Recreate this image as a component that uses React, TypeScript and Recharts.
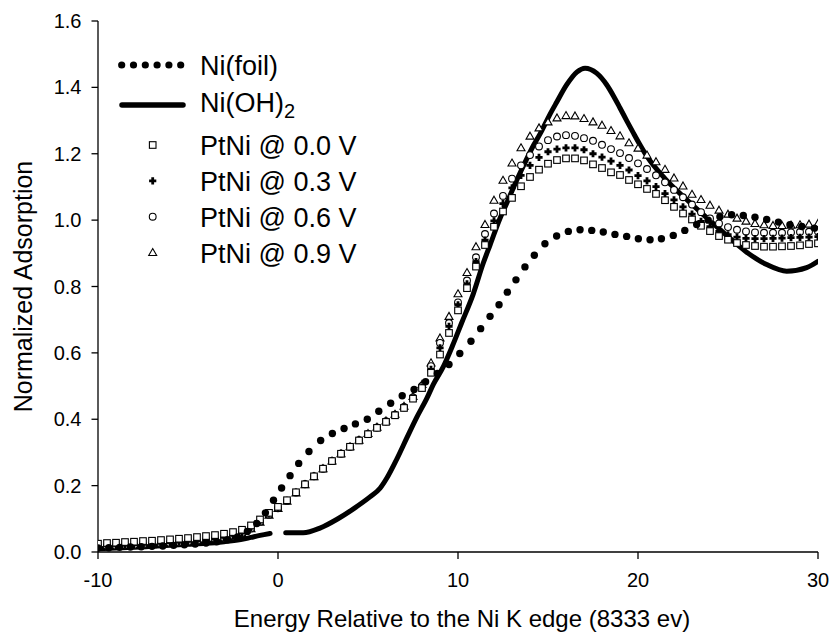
import React from 'react';
import { ComposedChart, Line, Scatter, XAxis, YAxis, Legend } from 'recharts';

const FONT = '"Liberation Sans", Arial, Helvetica, sans-serif';

const xTicks = [-10, 0, 10, 20, 30];
const yTicks = [0, 0.2, 0.4, 0.6, 0.8, 1.0, 1.2, 1.4, 1.6];
const rightTicks = [0.153, 0.773, 1.391];

const xTitle = 'Energy Relative to the Ni K edge (8333 ev)';
const yTitle = 'Normalized Adsorption';
const seriesNames = ['Ni(foil)', 'Ni(OH)', 'PtNi @ 0.0 V', 'PtNi @ 0.3 V', 'PtNi @ 0.6 V', 'PtNi @ 0.9 V'];

const foilEnergy = [-10, -9.4, -8.8, -8.2, -7.6, -7.0, -6.4, -5.8, -5.2, -4.6, -4.0, -3.4, -2.8, -2.25, -1.7, -1.18, -0.7, -0.25, 0.2, 0.67, 1.15, 1.72, 2.37, 3.02, 3.67, 4.3, 4.96, 5.6, 6.26, 6.9, 7.56, 8.2, 8.85, 9.5, 10.1, 10.72, 11.26, 11.78, 12.28, 12.74, 13.22, 13.72, 14.24, 14.83, 15.48, 16.13, 16.78, 17.43, 18.07, 18.72, 19.37, 20.02, 20.67, 21.3, 21.96, 22.6, 23.26, 23.9, 24.55, 25.2, 25.85, 26.5, 27.15, 27.8, 28.44, 29.1, 29.8];
const foilAbs = [0.012, 0.013, 0.014, 0.015, 0.016, 0.017, 0.018, 0.020, 0.022, 0.024, 0.027, 0.031, 0.037, 0.045, 0.062, 0.086, 0.118, 0.156, 0.193, 0.230, 0.267, 0.303, 0.336, 0.357, 0.372, 0.386, 0.400, 0.424, 0.448, 0.471, 0.490, 0.513, 0.538, 0.565, 0.598, 0.635, 0.673, 0.710, 0.745, 0.783, 0.820, 0.859, 0.894, 0.929, 0.952, 0.966, 0.971, 0.969, 0.964, 0.957, 0.951, 0.944, 0.941, 0.944, 0.954, 0.969, 0.987, 1.000, 1.010, 1.016, 1.014, 1.009, 1.002, 0.994, 0.986, 0.981, 0.976];

const ohEnergy = [-10, -9, -8, -7, -6, -5, -4, -3, -2, -1.5, -1, -0.44, 0, 0.43, 1.4, 2.33, 3.26, 4.19, 5.11, 5.67, 6.04, 6.6, 7.15, 7.7, 8.26, 8.63, 9.2, 9.7, 10.2, 10.85, 11.4, 11.78, 12.33, 12.7, 13.26, 13.63, 14.19, 14.56, 15.1, 15.48, 16.04, 16.6, 17.06, 17.7, 18.26, 18.63, 19.0, 19.37, 19.74, 20.1, 20.5, 21.5, 22.7, 23.8, 24.9, 26.0, 27.15, 28.26, 29.37, 30];
const ohAbs = [0.010, 0.012, 0.014, 0.017, 0.020, 0.023, 0.026, 0.031, 0.038, 0.044, 0.050, 0.056, null, 0.058, 0.058, 0.072, 0.098, 0.130, 0.166, 0.192, 0.222, 0.280, 0.343, 0.405, 0.462, 0.505, 0.560, 0.622, 0.690, 0.778, 0.870, 0.925, 1.005, 1.050, 1.120, 1.163, 1.225, 1.260, 1.318, 1.355, 1.408, 1.446, 1.458, 1.443, 1.408, 1.375, 1.338, 1.300, 1.263, 1.228, 1.192, 1.125, 1.062, 1.008, 0.955, 0.905, 0.866, 0.846, 0.857, 0.876];

const ptniEnergy = [-10, -9.5, -9, -8.5, -8, -7.5, -7, -6.5, -6, -5.5, -5, -4.5, -4, -3.5, -3, -2.5, -2, -1.5, -1, -0.5, 0, 0.5, 1, 1.5, 2, 2.5, 3, 3.5, 4, 4.5, 5, 5.5, 6, 6.5, 7, 7.5, 8, 8.5, 9, 9.5, 10, 10.5, 11, 11.5, 12, 12.5, 13, 13.5, 14, 14.5, 15, 15.5, 16, 16.5, 17, 17.5, 18, 18.5, 19, 19.5, 20, 20.5, 21, 21.5, 22, 22.5, 23, 23.5, 24, 24.5, 25, 25.5, 26, 26.5, 27, 27.5, 28, 28.5, 29, 29.5, 30];
const ptni00 = [0.025, 0.027, 0.028, 0.030, 0.031, 0.033, 0.034, 0.036, 0.038, 0.040, 0.042, 0.045, 0.048, 0.051, 0.055, 0.060, 0.067, 0.080, 0.098, 0.118, 0.136, 0.156, 0.180, 0.204, 0.228, 0.251, 0.274, 0.296, 0.317, 0.336, 0.355, 0.374, 0.392, 0.412, 0.434, 0.462, 0.494, 0.540, 0.595, 0.660, 0.728, 0.795, 0.860, 0.925, 0.980, 1.026, 1.067, 1.102, 1.130, 1.152, 1.170, 1.181, 1.186, 1.186, 1.180, 1.168, 1.157, 1.144, 1.136, 1.121, 1.108, 1.094, 1.079, 1.060, 1.040, 1.020, 1.002, 0.983, 0.967, 0.952, 0.941, 0.931, 0.925, 0.922, 0.920, 0.920, 0.921, 0.922, 0.924, 0.928, 0.930];
const ptni03 = [0.018, 0.019, 0.020, 0.021, 0.022, 0.023, 0.024, 0.026, 0.028, 0.030, 0.032, 0.034, 0.037, 0.040, 0.044, 0.050, 0.058, 0.073, 0.093, 0.114, 0.133, 0.155, 0.180, 0.205, 0.229, 0.252, 0.275, 0.297, 0.317, 0.337, 0.356, 0.375, 0.393, 0.413, 0.435, 0.464, 0.497, 0.550, 0.615, 0.680, 0.745, 0.808, 0.875, 0.940, 0.998, 1.050, 1.097, 1.135, 1.165, 1.189, 1.206, 1.214, 1.218, 1.218, 1.212, 1.200, 1.190, 1.178, 1.165, 1.151, 1.134, 1.118, 1.101, 1.080, 1.061, 1.040, 1.018, 0.996, 0.980, 0.966, 0.956, 0.949, 0.945, 0.944, 0.944, 0.945, 0.946, 0.947, 0.948, 0.949, 0.950];
const ptni06 = [0.017, 0.018, 0.019, 0.020, 0.021, 0.022, 0.023, 0.025, 0.027, 0.029, 0.031, 0.033, 0.036, 0.039, 0.043, 0.049, 0.057, 0.071, 0.091, 0.112, 0.132, 0.154, 0.179, 0.204, 0.228, 0.251, 0.274, 0.296, 0.317, 0.337, 0.356, 0.375, 0.394, 0.414, 0.437, 0.466, 0.500, 0.560, 0.630, 0.690, 0.752, 0.818, 0.888, 0.958, 1.020, 1.073, 1.125, 1.165, 1.196, 1.222, 1.241, 1.252, 1.256, 1.254, 1.247, 1.239, 1.227, 1.214, 1.202, 1.187, 1.171, 1.154, 1.135, 1.114, 1.091, 1.069, 1.047, 1.024, 1.005, 0.990, 0.979, 0.971, 0.966, 0.963, 0.962, 0.962, 0.962, 0.963, 0.964, 0.965, 0.966];
const ptni09 = [0.016, 0.017, 0.018, 0.019, 0.020, 0.021, 0.022, 0.024, 0.026, 0.028, 0.030, 0.032, 0.035, 0.038, 0.042, 0.048, 0.056, 0.070, 0.090, 0.111, 0.131, 0.153, 0.178, 0.203, 0.227, 0.251, 0.274, 0.296, 0.317, 0.337, 0.357, 0.376, 0.395, 0.415, 0.439, 0.469, 0.505, 0.570, 0.645, 0.710, 0.778, 0.842, 0.920, 0.987, 1.060, 1.120, 1.172, 1.218, 1.253, 1.278, 1.296, 1.308, 1.315, 1.314, 1.306, 1.296, 1.286, 1.270, 1.254, 1.233, 1.217, 1.196, 1.176, 1.153, 1.127, 1.103, 1.078, 1.062, 1.045, 1.030, 1.018, 1.006, 0.997, 0.990, 0.986, 0.984, 0.984, 0.985, 0.986, 0.988, 0.990];

const toRows = (xs: number[], ys: (number | null)[]) => xs.map((x, i) => ({ x, y: ys[i] }));

const foilData = toRows(foilEnergy, foilAbs);
const ohData = toRows(ohEnergy, ohAbs);
const d00 = toRows(ptniEnergy, ptni00);
const d03 = toRows(ptniEnergy, ptni03);
const d06 = toRows(ptniEnergy, ptni06);
const d09 = toRows(ptniEnergy, ptni09);

const DotShape = (p: any) => <circle cx={p.cx} cy={p.cy} r={3.7} fill="#000" />;
const SquareShape = (p: any) => (
  <rect x={p.cx - 3.3} y={p.cy - 3.3} width={6.6} height={6.6} fill="#fff" stroke="#000" strokeWidth={1.1} />
);
const plusPath = (cx: number, cy: number) =>
  `M${cx - 1.4},${cy - 3.6}H${cx + 1.4}V${cy - 1.4}H${cx + 3.6}V${cy + 1.4}H${cx + 1.4}V${cy + 3.6}H${cx - 1.4}V${cy + 1.4}H${cx - 3.6}V${cy - 1.4}H${cx - 1.4}Z`;
const PlusShape = (p: any) => <path d={plusPath(p.cx, p.cy)} fill="#000" />;
const CircleShape = (p: any) => <circle cx={p.cx} cy={p.cy} r={3.4} fill="#fff" stroke="#000" strokeWidth={1.1} />;
const TriShape = (p: any) => (
  <polygon
    points={`${p.cx},${p.cy - 4} ${p.cx + 4},${p.cy + 3} ${p.cx - 4},${p.cy + 3}`}
    fill="#fff"
    stroke="#000"
    strokeWidth={1.1}
  />
);

const LegendBox = () => {
  const markerX = 152.7;
  const textX = 200;
  const fs = 27;
  const rows = [155, 190.8, 226.7, 262.5];
  const shapes = [SquareShape, PlusShape, CircleShape, TriShape];
  const dotXs = [121.7, 133.5, 145.3, 157.1, 168.9, 180.7];
  return (
    <svg width={830} height={300} style={{ display: 'block' }}>
      {dotXs.map((x, i) => (
        <circle key={i} cx={x} cy={65} r={3.6} fill="#000" />
      ))}
      <text x={textX} y={75} fontSize={fs} fontFamily={FONT} fill="#000">{seriesNames[0]}</text>
      <line x1={122} y1={105} x2={183} y2={105} stroke="#000" strokeWidth={5.5} strokeLinecap="round" />
      <text x={textX} y={111.7} fontSize={fs} fontFamily={FONT} fill="#000">
        {seriesNames[1]}
        <tspan fontSize={20} dy={6.6}>2</tspan>
      </text>
      {rows.map((y, i) => {
        const S = shapes[i];
        return (
          <g key={i}>
            <S cx={markerX} cy={y - 10} />
            <text x={textX} y={y} fontSize={fs} fontFamily={FONT} fill="#000">{seriesNames[i + 2]}</text>
          </g>
        );
      })}
    </svg>
  );
};

const XTitle = (props: any) => {
  const vb = props.viewBox;
  return (
    <text x={vb.x + vb.width / 2 + 4} y={626.5} textAnchor="middle" fontSize={24} fontFamily={FONT} fill="#000">
      {xTitle}
    </text>
  );
};

const YTitle = (props: any) => {
  const vb = props.viewBox;
  const cx = 23;
  const cy = vb.y + vb.height / 2;
  return (
    <text
      x={cx}
      y={cy}
      transform={`rotate(-90 ${cx} ${cy})`}
      textAnchor="middle"
      dominantBaseline="central"
      fontSize={25}
      fontFamily={FONT}
      fill="#000"
    >
      {yTitle}
    </text>
  );
};

export default function App() {
  const tickStyle = { fontSize: 20, fontFamily: FONT, fill: '#000' };
  return (
    <div style={{ position: 'fixed', left: 0, top: 0, width: 830, height: 641, background: '#fff' }}>
      <ComposedChart width={830} height={641} margin={{ top: 21, right: 12, bottom: 0, left: 0 }}>
        <XAxis
          dataKey="x"
          type="number"
          domain={[-10, 30]}
          ticks={xTicks}
          allowDataOverflow
          height={89}
          tickSize={7}
          tickMargin={14}
          tick={tickStyle}
          axisLine={{ stroke: '#000', strokeWidth: 1.3 }}
          tickLine={{ stroke: '#000', strokeWidth: 1.3 }}
          label={<XTitle />}
        />
        <XAxis
          xAxisId="top"
          dataKey="x"
          type="number"
          orientation="top"
          domain={[-10, 30]}
          allowDataOverflow
          height={0}
          tick={false}
          tickLine={false}
          axisLine={{ stroke: '#000', strokeWidth: 1.3 }}
        />
        <YAxis
          dataKey="y"
          type="number"
          domain={[0, 1.6]}
          ticks={yTicks}
          allowDataOverflow
          width={98}
          tickSize={6.5}
          tickMargin={10}
          tick={tickStyle}
          tickFormatter={(v: number) => v.toFixed(1)}
          axisLine={{ stroke: '#000', strokeWidth: 1.3 }}
          tickLine={{ stroke: '#000', strokeWidth: 1.3 }}
          label={<YTitle />}
        />
        <YAxis
          yAxisId="right"
          orientation="right"
          type="number"
          domain={[0, 1.6]}
          ticks={rightTicks}
          allowDataOverflow
          mirror
          width={0}
          tickSize={3}
          tick={false}
          axisLine={{ stroke: '#333', strokeWidth: 1.6 }}
          tickLine={{ stroke: '#333', strokeWidth: 1.3 }}
        />
        <Legend
          layout="vertical"
          align="center"
          verticalAlign="middle"
          wrapperStyle={{ left: 0, top: 0, width: 830, height: 300, pointerEvents: 'none' }}
          content={() => <LegendBox />}
        />
        <Line
          data={ohData}
          dataKey="y"
          name="Ni(OH)2"
          type="monotone"
          stroke="#000"
          strokeWidth={5}
          strokeLinecap="round"
          strokeLinejoin="round"
          dot={false}
          activeDot={false}
          connectNulls={false}
          isAnimationActive={false}
        />
        <Scatter data={d09} dataKey="y" name="PtNi @ 0.9 V" shape={TriShape} isAnimationActive={false} />
        <Scatter data={d06} dataKey="y" name="PtNi @ 0.6 V" shape={CircleShape} isAnimationActive={false} />
        <Scatter data={d03} dataKey="y" name="PtNi @ 0.3 V" shape={PlusShape} isAnimationActive={false} />
        <Scatter data={d00} dataKey="y" name="PtNi @ 0.0 V" shape={SquareShape} isAnimationActive={false} />
        <Scatter data={foilData} dataKey="y" name="Ni(foil)" shape={DotShape} isAnimationActive={false} />
      </ComposedChart>
    </div>
  );
}
